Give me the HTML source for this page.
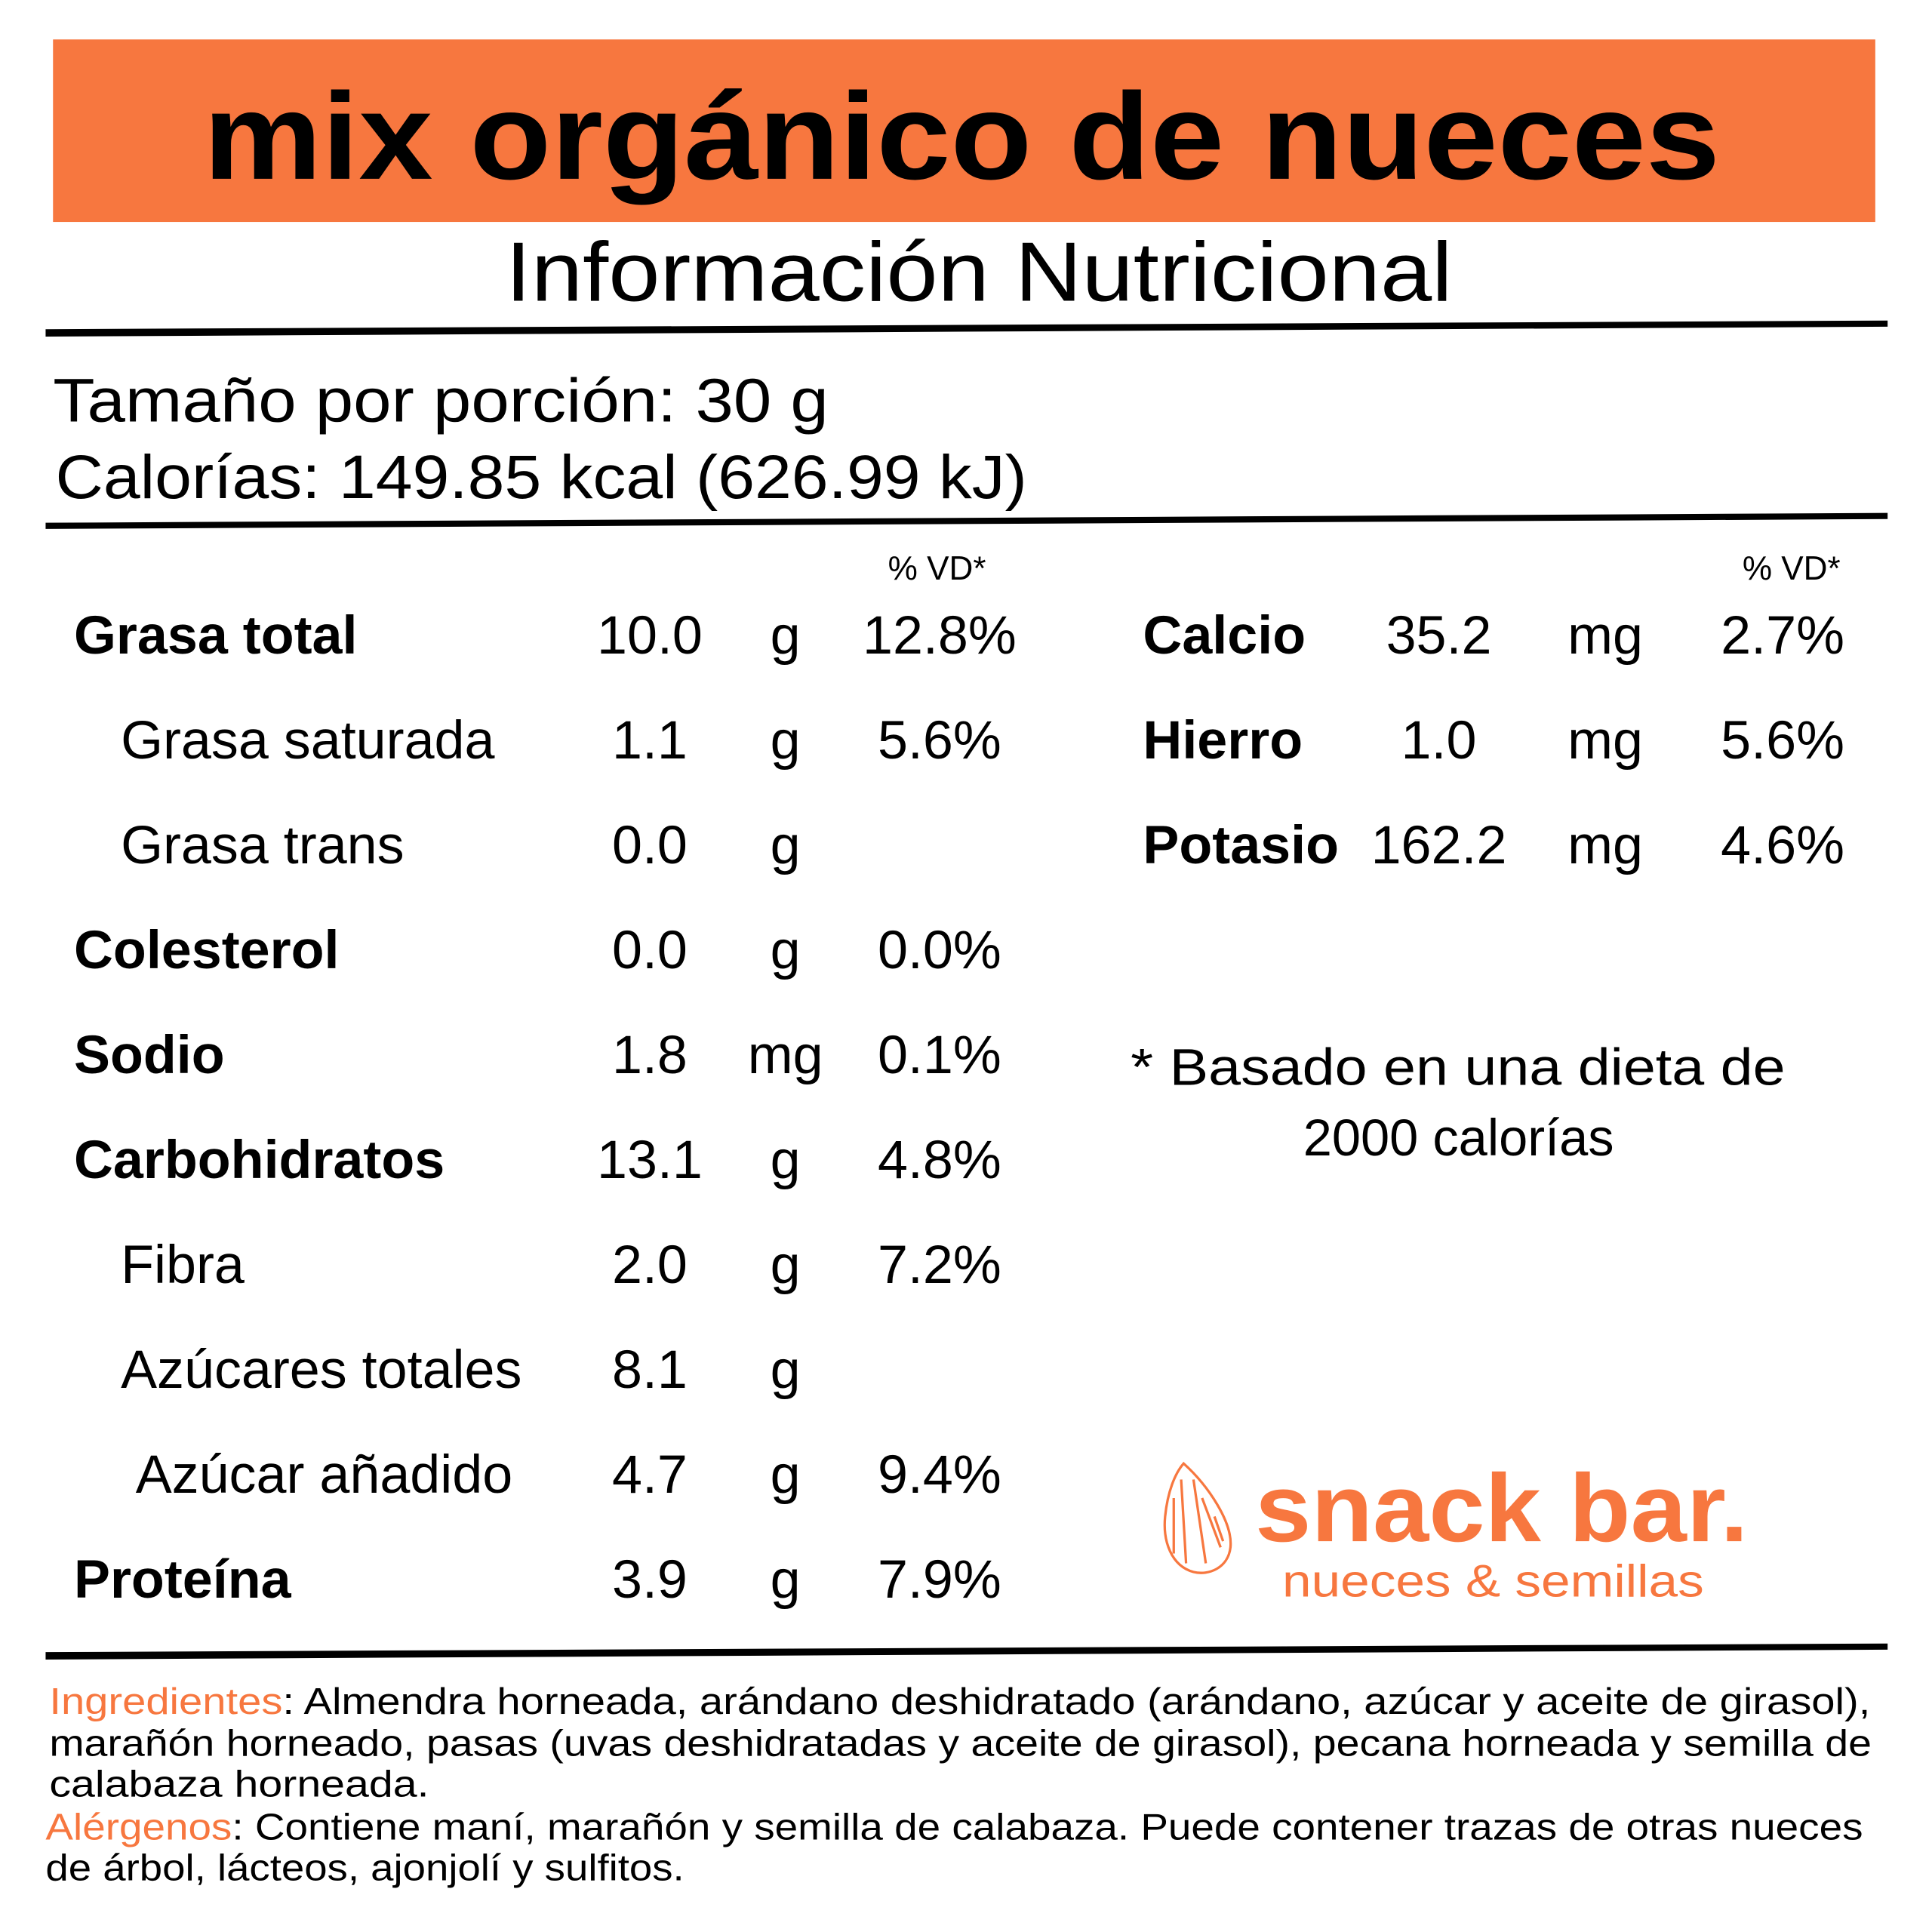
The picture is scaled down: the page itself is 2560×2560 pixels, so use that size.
<!DOCTYPE html>
<html><head><meta charset="utf-8"><style>
html,body{margin:0;padding:0;background:#fff}
svg{display:block}
text{font-family:"Liberation Sans",sans-serif;fill:#000}
.b{font-weight:bold}
.o{fill:#f7773f}
</style></head><body>
<svg width="2560" height="2560" viewBox="0 0 1567 1567" xmlns="http://www.w3.org/2000/svg">
<rect x="43" y="32" width="1478" height="148" fill="#f7773f"/>
<text x="165" y="145" class="b" font-size="100" textLength="1230" lengthAdjust="spacingAndGlyphs">mix orgánico de nueces</text>
<text x="410" y="244" font-size="68" textLength="768" lengthAdjust="spacingAndGlyphs">Información Nutricional</text>
<polygon points="37,267 1531,260 1531,265 37,273" fill="#000"/>
<text x="43" y="342" font-size="50" textLength="629" lengthAdjust="spacingAndGlyphs">Tamaño por porción: 30 g</text>
<text x="45" y="404" font-size="50" textLength="788" lengthAdjust="spacingAndGlyphs">Calorías: 149.85 kcal (626.99 kJ)</text>
<polygon points="37,424 1531,416 1531,421 37,429" fill="#000"/>
<text x="760" y="470" font-size="27" text-anchor="middle">% VD*</text>
<text x="1453" y="470" font-size="27" text-anchor="middle">% VD*</text>
<g id="rows"></g>
<text x="917" y="880" font-size="42" textLength="531" lengthAdjust="spacingAndGlyphs">* Basado en una dieta de</text>
<text x="1183" y="937" font-size="42" text-anchor="middle">2000 calorías</text>
<g fill="none" stroke="#f7773f" stroke-width="2">
<path d="M960,1187 C980,1205 1000,1235 998,1255 C996,1272 980,1278 968,1275 C950,1270 943,1250 945,1230 C947,1210 953,1195 960,1187 Z"/>
<path d="M958,1200 L962,1268 M968,1200 L978,1268 M952,1215 L952,1260 M975,1215 L990,1255 M985,1230 L992,1250"/>
</g>
<text x="1018" y="1250" class="b o" font-size="78" textLength="400" lengthAdjust="spacingAndGlyphs">snack bar.</text>
<text x="1040" y="1295" class="o" font-size="37" textLength="342" lengthAdjust="spacingAndGlyphs">nueces &amp; semillas</text>
<polygon points="37,1340 1531,1333 1531,1338 37,1346" fill="#000"/>
<g font-size="30">
<text x="40" y="1390" textLength="1477" lengthAdjust="spacingAndGlyphs"><tspan class="o">Ingredientes</tspan>: Almendra horneada, arándano deshidratado (arándano, azúcar y aceite de girasol),</text>
<text x="40" y="1424" textLength="1478" lengthAdjust="spacingAndGlyphs">marañón horneado, pasas (uvas deshidratadas y aceite de girasol), pecana horneada y semilla de</text>
<text x="40" y="1457" textLength="308" lengthAdjust="spacingAndGlyphs">calabaza horneada.</text>
</g>
<g font-size="30">
<text x="37" y="1492" textLength="1474" lengthAdjust="spacingAndGlyphs"><tspan class="o">Alérgenos</tspan>: Contiene maní, marañón y semilla de calabaza. Puede contener trazas de otras nueces</text>
<text x="37" y="1525" textLength="518" lengthAdjust="spacingAndGlyphs">de árbol, lácteos, ajonjolí y sulfitos.</text>
</g>
</svg>
<script>
const leftLabels=["Grasa total","Grasa saturada","Grasa trans","Colesterol","Sodio","Carbohidratos","Fibra","Azúcares totales","Azúcar añadido","Proteína"];
const leftBold=[1,0,0,1,1,1,0,0,0,1];
const leftIndent=[0,1,1,0,0,0,1,1,2,0];
const leftValues=["10.0","1.1","0.0","0.0","1.8","13.1","2.0","8.1","4.7","3.9"];
const leftUnits=["g","g","g","g","mg","g","g","g","g","g"];
const leftPct=["12.8%","5.6%","","0.0%","0.1%","4.8%","7.2%","","9.4%","7.9%"];
const rightLabels=["Calcio","Hierro","Potasio"];
const rightValues=["35.2","1.0","162.2"];
const rightUnits=["mg","mg","mg"];
const rightPct=["2.7%","5.6%","4.6%"];
const NS="http://www.w3.org/2000/svg";
const g=document.getElementById('rows');
function t(x,y,s,anchor,bold,name){
  const e=document.createElementNS(NS,'text');
  e.setAttribute('x',x);e.setAttribute('y',y);e.setAttribute('font-size',44);
  if(anchor)e.setAttribute('text-anchor',anchor);
  if(bold)e.setAttribute('font-weight','bold');
  e.textContent=s;
  
  
  g.appendChild(e);
}
const rowY=i=>530+i*85.1;
const indentX=[60,98,110];
leftLabels.forEach((l,i)=>{
  const y=rowY(i);
  t(indentX[leftIndent[i]],y,l,null,leftBold[i],'nutrient-label');
  t(527,y,leftValues[i],'middle',0,'nutrient-value');
  t(637,y,leftUnits[i],'middle',0,'nutrient-unit');
  if(leftPct[i])t(762,y,leftPct[i],'middle',0,'nutrient-dv');
});
rightLabels.forEach((l,i)=>{
  const y=rowY(i);
  t(927,y,l,null,1,'mineral-label');
  t(1167,y,rightValues[i],'middle',0,'mineral-value');
  t(1302,y,rightUnits[i],'middle',0,'mineral-unit');
  t(1496,y,rightPct[i],'end',0,'mineral-dv');
});
</script>
</body></html>
